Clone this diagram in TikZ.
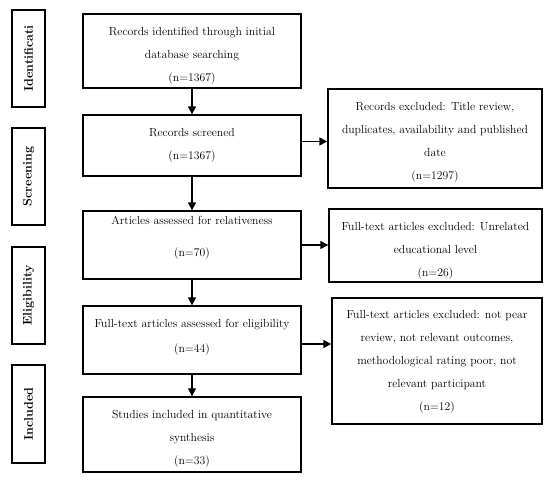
\documentclass[tikz,border=0pt]{standalone}
\usetikzlibrary{arrows.meta}
\begin{document}
\begin{tikzpicture}[x=1pt,y=1pt,
  box/.style={draw, line width=1.4pt, inner sep=0pt},
  txt/.style={align=center, inner sep=0pt, font=\fontsize{11.7}{23}\selectfont},
  lab/.style={draw, line width=1.4pt, rotate=90, align=center, inner sep=0pt,
    minimum height=33, font=\fontsize{12.5}{14}\selectfont\bfseries},
  arr/.style={line width=1.4pt, -{Triangle[length=8pt,width=8pt]}}]
\useasboundingbox (0,0) rectangle (550,-481);
% phase labels
\node[lab, minimum width=97] (l1) at (28.5,-58.5) {Identificati};
\node[lab, minimum width=97] (l2) at (28.5,-176.5) {Screening};
\node[lab, minimum width=97] (l3) at (28.5,-295.5) {Eligibility};
\node[lab, minimum width=98] (l4) at (28.5,-414) {Included};
% main column
\node[box, minimum width=218, minimum height=74] (b1) at (192,-51) {};
\node[txt] (b1t) at ([yshift=-5]b1.center)
  {Records identified through initial\\database searching\\(n=1367)};
\node[box, minimum width=218, minimum height=61] (b2) at (192,-145.5) {};
\node[txt] (b2t) at (b2.center) {Records screened\\(n=1367)};
\node[box, minimum width=218, minimum height=68] (b3) at (192,-245) {};
\node[txt] (b3t) at ([yshift=7]b3.center)
  {Articles assessed for relativeness\\[9pt](n=70)};
\node[box, minimum width=218, minimum height=68] (b4) at (192,-340) {};
\node[txt] (b4t) at ([yshift=3]b4.center)
  {Full-text articles assessed for eligibility\\[2pt](n=44)};
\node[box, minimum width=218, minimum height=75] (b5) at (192,-434.5) {};
\node[txt] (b5t) at ([yshift=-4]b5.center)
  {Studies included in quantitative\\synthesis\\(n=33)};
% exclusion column
\node[box, minimum width=214, minimum height=99] (r1) at (435,-138.5) {};
\node[txt] (r1t) at ([yshift=-4]r1.center)
  {Records excluded: Title review,\\duplicates, availability and published\\date\\(n=1297)};
\node[box, minimum width=213, minimum height=73] (r2) at (435.5,-245.5) {};
\node[txt] (r2t) at ([yshift=-5]r2.center)
  {Full-text articles excluded: Unrelated\\educational level\\(n=26)};
\node[box, minimum width=210, minimum height=126] (r3) at (437,-361) {};
\node[txt] (r3t) at ([yshift=-1]r3.center)
  {Full-text articles excluded: not pear\\review, not relevant outcomes,\\methodological rating poor, not\\relevant participant\\(n=12)};
% arrows
\draw[arr] (b1) -- (b2);
\draw[arr] (b2) -- (b3);
\draw[arr] (b3) -- (b4);
\draw[arr] (b4) -- (b5);
\draw[arr] ([yshift=4]b2.east) -- ([yshift=4]b2.east -| r1.west);
\draw[arr] (b3.east) -- (b3.east -| r2.west);
\draw[arr] ([yshift=-4]b4.east) -- ([yshift=-4]b4.east -| r3.west);
\end{tikzpicture}
\end{document}
